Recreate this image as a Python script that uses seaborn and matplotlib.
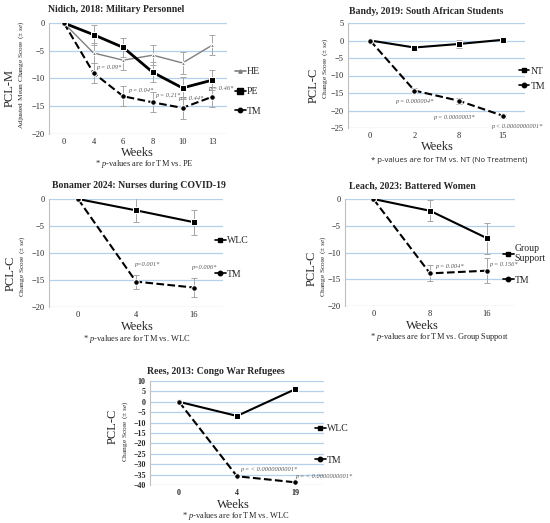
import matplotlib
matplotlib.use('Agg')
import matplotlib.pyplot as plt
from matplotlib.lines import Line2D
import seaborn as sns

# Nidich, 2018 (military personnel)
nidich_weeks = ['0', '4', '6', '8', '10', '13']
nidich_he = [0, -5.4, -6.7, -5.8, -7.2, -4.0]
nidich_he_se = [0, 1.8, 1.8, 1.8, 2.0, 1.8]
nidich_pe = [0, -2.1, -4.4, -8.9, -11.7, -10.3]
nidich_pe_se = [0, 1.8, 1.7, 1.8, 2.0, 1.8]
nidich_tm = [0, -9.0, -13.2, -14.3, -15.3, -13.3]
nidich_tm_se = [0, 1.8, 1.8, 1.8, 2.0, 1.8]
nidich_p = ['p = 0.09*', 'p = 0.04*', 'p = 0.21*', 'p = 0.44*', 'p = 0.46*']

# Bandy, 2019 (South African students)
bandy_weeks = ['0', '2', '8', '15']
bandy_nt = [0, -2.0, -1.0, 0.2]
bandy_nt_se = [0, 0.8, 1.2, 0.8]
bandy_tm = [0, -14.3, -17.2, -21.5]
bandy_tm_se = [0, 0.6, 0.8, 0.5]
bandy_p = ['p = 0.000004*', 'p = 0.0000003*', 'p < 0.0000000001*']

# Bonamer 2024 (nurses)
bonamer_weeks = ['0', '4', '16']
bonamer_wlc = [0, -2.1, -4.3]
bonamer_wlc_se = [0, 2.2, 2.3]
bonamer_tm = [0, -15.3, -16.4]
bonamer_tm_se = [0, 1.3, 1.7]
bonamer_p = ['p=0.001*', 'p=0.006*']

# Leach, 2023 (battered women)
leach_weeks = ['0', '8', '16']
leach_gs = [0, -2.2, -7.3]
leach_gs_se = [0, 2.0, 2.9]
leach_tm = [0, -13.9, -13.4]
leach_tm_se = [0, 1.5, 2.3]
leach_p = ['p = 0.004*', 'p = 0.156*']

# Rees, 2013 (Congo war refugees)
rees_weeks = ['0', '4', '19']
rees_wlc = [0, -6.8, 6.0]
rees_tm = [0, -35.8, -38.7]
rees_p = ['p = < 0.0000000001*', 'p = < 0.0000000001*']

W, H = 550, 523
SERIF = 'Liberation Serif'
GRID = '#b4d0ec'
ERR = '#a6a6a6'

sns.set_style('white')
plt.rcParams['font.family'] = [SERIF, 'DejaVu Serif']
plt.rcParams['mathtext.fontset'] = 'custom'
plt.rcParams['mathtext.rm'] = SERIF
plt.rcParams['mathtext.it'] = SERIF + ':italic'

fig = plt.figure(figsize=(W / 100, H / 100), dpi=100)


def box(left, top, right, bottom):
    return [left / W, 1 - bottom / H, (right - left) / W, (bottom - top) / H]


def ftext(x, y, s, **kw):
    fig.text(x / W, 1 - y / H, s, **kw)


def draw_panel(rect, weeks, series, ylim, ystep, ptexts, poffsets, legend_anchor,
               labelspacing, tick_bold=False, ticksize=6.0):
    ax = fig.add_axes(box(*rect))
    xs = list(range(len(weeks)))
    handles = []
    for label, vals, se, style in series:
        sns.lineplot(x=xs, y=vals, ax=ax, **style)
        if se is not None:
            ax.errorbar(xs, vals, yerr=se, fmt='none', ecolor=ERR, elinewidth=0.7,
                        capsize=2, capthick=0.7, zorder=1)
        handles.append(Line2D([], [], color=style['color'], linewidth=1.2,
                              marker=style['marker'], markersize=style['markersize'] * 0.8,
                              label=label))
    tm_vals = series[-1][1]
    for (txt, (dx, dy, ha)), i in zip(zip(ptexts, poffsets), xs[1:]):
        ax.annotate(txt, xy=(i, tm_vals[i]), xytext=(dx, dy), textcoords='offset pixels',
                    ha=ha, va='center', fontsize=4.6, style='italic', color='#595959')
    ax.set_xlim(-0.5, len(weeks) - 0.5)
    ax.set_ylim(*ylim)
    ax.set_xticks(xs)
    ax.set_xticklabels(weeks)
    ax.set_yticks(range(ylim[0], ylim[1] + 1, ystep))
    ax.tick_params(axis='both', length=0, labelsize=ticksize, pad=3)
    if tick_bold:
        for t in ax.get_xticklabels() + ax.get_yticklabels():
            t.set_fontweight('bold')
    ax.grid(axis='y', color=GRID, linewidth=0.9)
    ax.set_axisbelow(True)
    for side in ['top', 'right', 'bottom']:
        ax.spines[side].set_visible(False)
    ax.spines['left'].set_color('#bfbfbf')
    ax.spines['left'].set_linewidth(0.8)
    ax.set_xlabel('')
    ax.set_ylabel('')
    ax.legend(handles=handles, loc='center left', bbox_to_anchor=legend_anchor,
              frameon=False, fontsize=7, handlelength=1.1, handletextpad=0.1,
              borderpad=0, borderaxespad=0, labelspacing=labelspacing)
    return ax


he_style = dict(color='#7f7f7f', linewidth=1.0, marker='^', markersize=3)
pe_style = dict(color='black', linewidth=2.0, marker='s', markersize=5)
tm_style = dict(color='black', linewidth=1.5, linestyle='--', marker='o', markersize=4)
ctrl_style = dict(color='black', linewidth=1.5, marker='s', markersize=4)

# Panel 1
draw_panel((49, 23, 227, 134), nidich_weeks,
           [('HE', nidich_he, nidich_he_se, he_style),
            ('PE', nidich_pe, nidich_pe_se, pe_style),
            ('TM', nidich_tm, nidich_tm_se, tm_style)],
           (-20, 0), 5, nidich_p,
           [(3, 5, 'left'), (5, 6, 'left'), (3, 7, 'left'), (-4, 9, 'left'), (-4, 8, 'left')],
           (1.045, 0.383), 1.1)
ftext(48, 10, 'Nidich, 2018: Military Personnel', fontsize=7, fontweight='bold', va='center')
ftext(10, 88, 'PCL-M', fontsize=9, rotation=90, ha='center', va='center')
ftext(21, 75, r'Adjusted Mean Change Score ($\pm$ $\it{se}$)', fontsize=5.3,
      rotation=90, ha='center', va='center')
ftext(137, 153, 'Weeks', fontsize=9, ha='center', va='center')
ftext(144, 164, r'* $\it{p}$-values are for TM vs. PE', fontsize=6, ha='center', va='center')

# Panel 2
draw_panel((348, 23, 525, 128), bandy_weeks,
           [('NT', bandy_nt, bandy_nt_se, ctrl_style),
            ('TM', bandy_tm, bandy_tm_se, tm_style)],
           (-25, 5), 5, bandy_p,
           [(0, -11, 'center'), (-4, -17, 'center'), (14, -11, 'center')],
           (0.965, 0.47), 0.6)
ftext(349, 11, 'Bandy, 2019: South African Students', fontsize=7, fontweight='bold', va='center')
ftext(314, 85, 'PCL-C', fontsize=9, rotation=90, ha='center', va='center')
ftext(325, 68, r'Change Score ($\pm$ $\it{se}$)', fontsize=5.3, rotation=90,
      ha='center', va='center')
ftext(437, 147, 'Weeks', fontsize=9, ha='center', va='center')
ftext(449, 160, '* p-values are for TM vs. NT (No Treatment)', fontsize=5.6,
      family=['Open Sans', 'DejaVu Sans'], ha='center', va='center')

# Panel 3
draw_panel((49, 199, 223, 307), bonamer_weeks,
           [('WLC', bonamer_wlc, bonamer_wlc_se, ctrl_style),
            ('TM', bonamer_tm, bonamer_tm_se, tm_style)],
           (-20, 0), 5, bonamer_p,
           [(11, 17, 'center'), (10, 20, 'center')],
           (0.954, 0.458), 2.5)
ftext(52, 185, 'Bonamer 2024: Nurses during COVID-19', fontsize=7, fontweight='bold', va='center')
ftext(11, 273, 'PCL-C', fontsize=9, rotation=90, ha='center', va='center')
ftext(22, 266, r'Change Score ($\pm$ $\it{se}$)', fontsize=5.3, rotation=90,
      ha='center', va='center')
ftext(137, 327, 'Weeks', fontsize=9, ha='center', va='center')
ftext(137, 339, r'* $\it{p}$-values are for TM vs. WLC', fontsize=6, ha='center', va='center')

# Panel 4
draw_panel((345, 199, 515, 306), leach_weeks,
           [('Group\nSupport', leach_gs, leach_gs_se, ctrl_style),
            ('TM', leach_tm, leach_tm_se, tm_style)],
           (-20, 0), 5, leach_p,
           [(5, 7, 'left'), (3, 6, 'left')],
           (0.93, 0.39), 1.3)
ftext(349, 186, 'Leach, 2023: Battered Women', fontsize=7, fontweight='bold', va='center')
ftext(312, 268, 'PCL-C', fontsize=9, rotation=90, ha='center', va='center')
ftext(323, 266, r'Change Score ($\pm$ $\it{se}$)', fontsize=5.3, rotation=90,
      ha='center', va='center')
ftext(422, 326, 'Weeks', fontsize=9, ha='center', va='center')
ftext(440, 337, r'* $\it{p}$-values are for TM vs. Group Support', fontsize=6,
      ha='center', va='center')

# Panel 5
draw_panel((150, 381, 324, 485), rees_weeks,
           [('WLC', rees_wlc, None, ctrl_style),
            ('TM', rees_tm, None, tm_style)],
           (-40, 10), 5, rees_p,
           [(3, 7, 'left'), (0, 6, 'left')],
           (0.948, 0.39), 2.3, tick_bold=True, ticksize=5.8)
ftext(147, 371, 'Rees, 2013: Congo War Refugees', fontsize=7, fontweight='bold', va='center')
ftext(113, 426, 'PCL-C', fontsize=9, rotation=90, ha='center', va='center')
ftext(125, 431, r'Change Score ($\pm$ $\it{se}$)', fontsize=5.3, rotation=90,
      ha='center', va='center')
ftext(233, 505, 'Weeks', fontsize=9, ha='center', va='center')
ftext(236, 516, r'* $\it{p}$-values are for TM vs. WLC', fontsize=6, ha='center', va='center')

fig.savefig('out.png', dpi=100)
